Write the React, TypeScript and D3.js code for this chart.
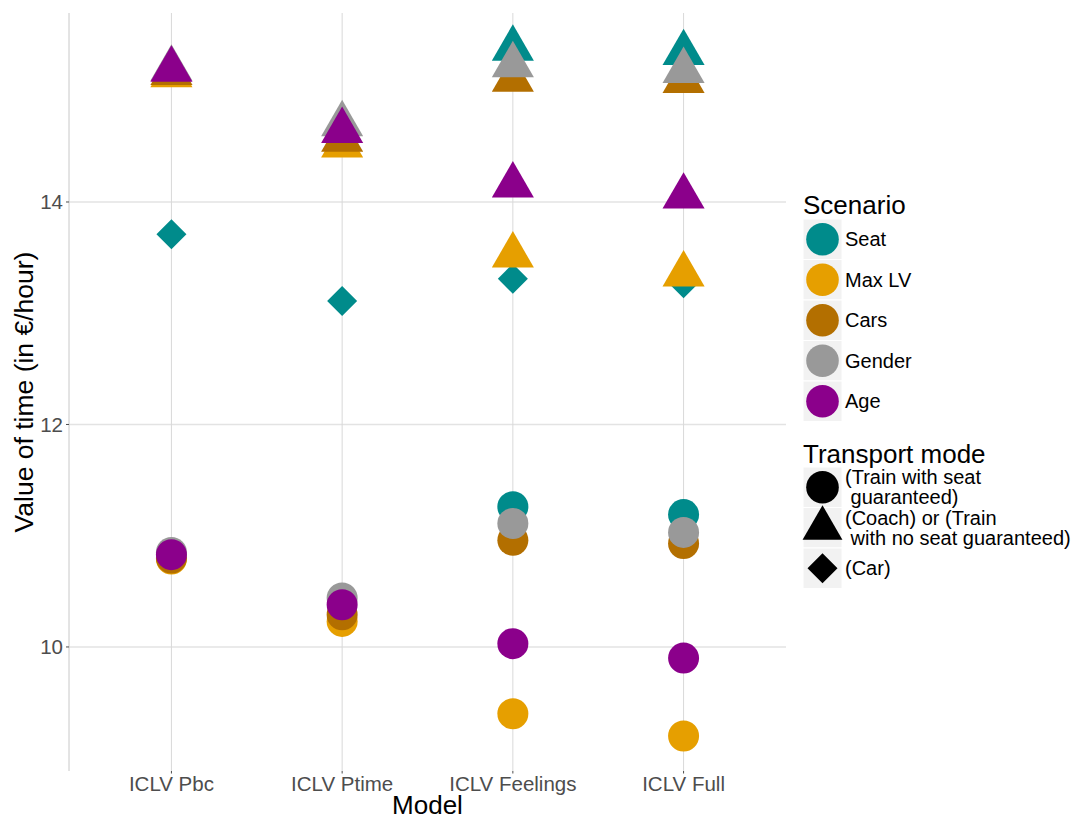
import React from "react";
import * as d3 from "d3";

const models = ["ICLV Pbc", "ICLV Ptime", "ICLV Feelings", "ICLV Full"];
const scenarios = ["Seat", "Max LV", "Cars", "Gender", "Age"];
const scenarioColors = ["#008B8B", "#E69F00", "#B36F00", "#999999", "#8B008B"];

// Train with seat guaranteed (circle), one row per scenario, one value per model
const trainSeat: (number | null)[][] = [
  [null, null, 11.26, 11.19],
  [10.79, 10.23, 9.4, 9.2],
  [10.8, 10.29, 10.96, 10.93],
  [10.85, 10.44, 11.11, 11.03],
  [10.83, 10.38, 10.03, 9.9],
];
// Coach or train with no seat guaranteed (triangle)
const coach: (number | null)[][] = [
  [null, null, 15.38, 15.34],
  [15.14, 14.51, 13.52, 13.35],
  [15.16, 14.56, 15.1, 15.09],
  [15.2, 14.7, 15.23, 15.18],
  [15.19, 14.64, 14.15, 14.05],
];
// Car (diamond)
const car: (number | null)[][] = [
  [13.71, 13.11, 13.31, 13.27],
  [null, null, null, null],
  [null, null, null, null],
  [null, null, null, null],
  [null, null, null, null],
];

const yTicks = [10, 12, 14];
const modeLabels = [
  ["(Train with seat", " guaranteed)"],
  ["(Coach) or (Train", " with no seat guaranteed)"],
  ["(Car)"],
];

const FONT = "'Liberation Sans', Arial, Helvetica, sans-serif";

const W = 1085, H = 819;
const left = 69, right = 786, top = 13, bottom = 771;

const x = d3.scalePoint<string>().domain(models).range([left, right]).padding(0.6);
const y = d3.scaleLinear().domain([8.885, 15.699]).range([bottom, top]);

const circleR = 15.5;
const triR = 24.3;
const diaR = 15;

function tri(cx: number, cy: number, r: number) {
  const h = (r * Math.sqrt(3)) / 2;
  return `M${cx},${cy - r}L${cx + h},${cy + r / 2}L${cx - h},${cy + r / 2}Z`;
}
function dia(cx: number, cy: number, r: number) {
  return `M${cx},${cy - r}L${cx + r},${cy}L${cx},${cy + r}L${cx - r},${cy}Z`;
}

export default function App() {
  const marks: React.ReactNode[] = [];
  scenarios.forEach((s, si) => {
    const col = scenarioColors[si];
    models.forEach((m, mi) => {
      const cx = x(m)!;
      const a = trainSeat[si][mi];
      if (a != null) marks.push(<circle key={`c${si}${mi}`} cx={cx} cy={y(a)} r={circleR} fill={col} />);
      const b = coach[si][mi];
      if (b != null) marks.push(<path key={`t${si}${mi}`} d={tri(cx, y(b), triR)} fill={col} />);
      const c = car[si][mi];
      if (c != null) marks.push(<path key={`d${si}${mi}`} d={dia(cx, y(c), diaR)} fill={col} />);
    });
  });

  const legX = 803, legW = 39, keyH = 40.5;
  const scenTop = 219;
  const modeTop = 467;

  return (
    <svg width={W} height={H} style={{ position: "absolute", left: 0, top: 0, background: "#fff" }} fontFamily={FONT}>
      <rect x={0} y={0} width={W} height={H} fill="#fff" />
      {/* grid */}
      {yTicks.map((t) => (
        <line key={`hg${t}`} x1={left} x2={right} y1={y(t)} y2={y(t)} stroke="#e3e3e3" strokeWidth={1.6} />
      ))}
      {models.map((m) => (
        <line key={`vg${m}`} x1={x(m)} x2={x(m)} y1={top} y2={bottom} stroke="#d9d9d9" strokeWidth={1} />
      ))}
      {/* y axis line */}
      <line x1={left} x2={left} y1={top} y2={bottom} stroke="#c8c8c8" strokeWidth={1} />
      {/* y ticks */}
      {yTicks.map((t) => (
        <g key={`yt${t}`}>
          <line x1={left - 3} x2={left} y1={y(t)} y2={y(t)} stroke="#4d4d4d" strokeWidth={1} />
          <text x={63} y={y(t)} dy="0.36em" textAnchor="end" fontSize={20.5} fill="#4d4d4d">{t}</text>
        </g>
      ))}
      {/* x ticks */}
      {models.map((m) => (
        <g key={`xt${m}`}>
          <line x1={x(m)} x2={x(m)} y1={bottom} y2={bottom + 2.5} stroke="#4d4d4d" strokeWidth={1} />
          <text x={x(m)} y={791} textAnchor="middle" fontSize={20.5} fill="#4d4d4d">{m}</text>
        </g>
      ))}
      {/* titles */}
      <text x={(left + right) / 2} y={814} textAnchor="middle" fontSize={26} fill="#000">Model</text>
      <text transform={`translate(33,${(top + bottom) / 2}) rotate(-90)`} textAnchor="middle" fontSize={26.5} fill="#000">Value of time (in €/hour)</text>
      {/* marks */}
      {marks}
      {/* legend: scenario */}
      <text x={legX} y={214} fontSize={26} fill="#000">Scenario</text>
      {scenarios.map((s, i) => {
        const ky = scenTop + i * keyH;
        return (
          <g key={`ls${s}`}>
            <rect x={legX} y={ky} width={legW} height={keyH} fill="#f2f2f2" stroke="#fff" strokeWidth={1} />
            <circle cx={legX + legW / 2} cy={ky + keyH / 2} r={16.3} fill={scenarioColors[i]} />
            <text x={845} y={ky + keyH / 2} dy="0.36em" fontSize={20} fill="#000">{s}</text>
          </g>
        );
      })}
      {/* legend: transport mode */}
      <text x={legX} y={462.5} fontSize={26} fill="#000">Transport mode</text>
      {modeLabels.map((lines, i) => {
        const ky = modeTop + i * keyH;
        const cx = legX + legW / 2, cy = ky + keyH / 2;
        let shape;
        if (i === 0) shape = <circle cx={cx} cy={cy} r={16.3} fill="#000" />;
        else if (i === 1) shape = <path d={tri(cx, cy + 0.5, 23)} fill="#000" />;
        else shape = <path d={dia(cx, cy, 15)} fill="#000" />;
        const lh = 20;
        const firstBase = cy + 7 - ((lines.length - 1) * lh) / 2;
        return (
          <g key={`lm${i}`}>
            <rect x={legX} y={ky} width={legW} height={keyH} fill="#f2f2f2" stroke="#fff" strokeWidth={1} />
            {shape}
            {lines.map((ln, j) => (
              <text key={j} x={845} y={firstBase + j * lh} fontSize={20} fill="#000" style={{ whiteSpace: "pre" }} xmlSpace="preserve">{ln}</text>
            ))}
          </g>
        );
      })}
    </svg>
  );
}
